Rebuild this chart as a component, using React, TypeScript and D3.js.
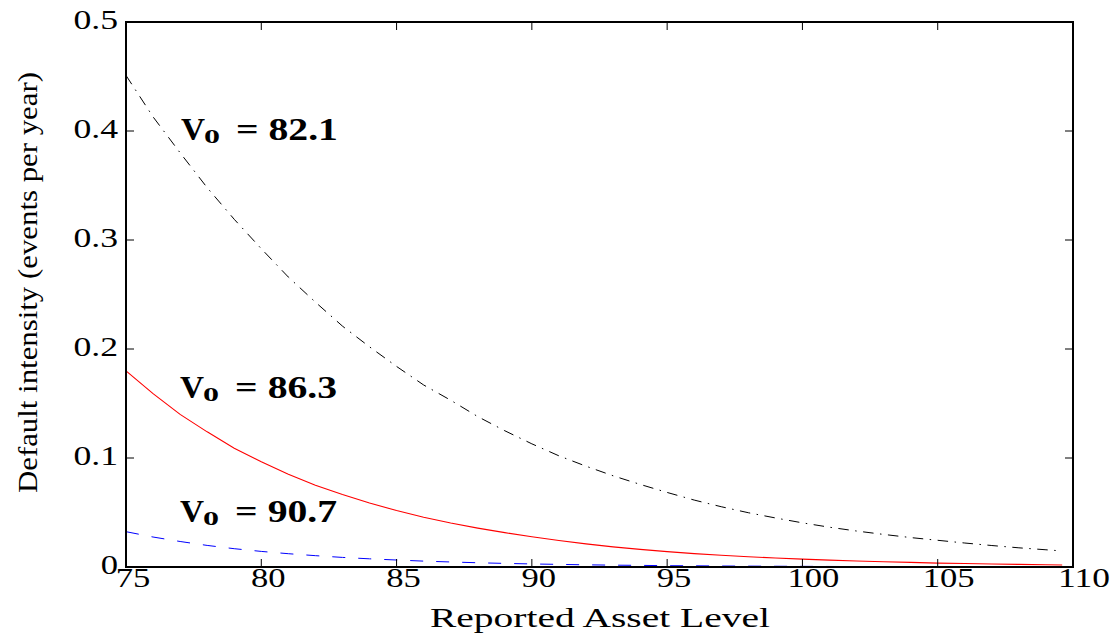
import React from "react";
import * as d3 from "d3";

// Reported asset level (x) samples
const assetLevels = [
  75, 76, 77, 78, 79, 80, 81, 82, 83, 84, 85, 86, 87, 88, 89, 90, 91, 92, 93, 94,
  95, 96, 97, 98, 99, 100, 101, 102, 103, 104, 105, 106, 107, 108, 109, 109.6,
];

// Default intensity for V0 = 82.1 (black, dash-dot)
const intensityV821 = [
  0.451, 0.413, 0.38, 0.348, 0.319, 0.292, 0.266, 0.243, 0.221, 0.202, 0.184,
  0.167, 0.153, 0.138, 0.125, 0.113, 0.102, 0.0925, 0.0837, 0.0758, 0.0684,
  0.0614, 0.0553, 0.0498, 0.045, 0.0405, 0.0365, 0.033, 0.0299, 0.027, 0.0245,
  0.022, 0.0197, 0.0176, 0.0158, 0.0147,
];

// Default intensity for V0 = 86.3 (red, solid)
const intensityV863 = [
  0.18, 0.159, 0.14, 0.124, 0.109, 0.0965, 0.085, 0.075, 0.0665, 0.0587, 0.0518,
  0.0457, 0.0404, 0.0357, 0.0315, 0.0278, 0.0243, 0.0212, 0.0185, 0.0162,
  0.0141, 0.0123, 0.0108, 0.0094, 0.0082, 0.0072, 0.0063, 0.0055, 0.0048,
  0.0042, 0.0036, 0.0032, 0.0028, 0.0024, 0.0021, 0.0019,
];

// Default intensity for V0 = 90.7 (blue, dashed)
const intensityV907 = [
  0.0324, 0.0275, 0.0234, 0.0198, 0.0168, 0.0143, 0.0122, 0.0104, 0.0088,
  0.0075, 0.0064, 0.0054, 0.0046, 0.0039, 0.0033, 0.0028, 0.0024, 0.002,
  0.0017, 0.0015, 0.0012, 0.0011, 0.0009, 0.0008, 0.0007, 0.0006, 0.0005,
  0.0004, 0.00035, 0.0003, 0.00025, 0.0002, 0.00018, 0.00015, 0.00013, 0.00012,
];

const xTicks = [75, 80, 85, 90, 95, 100, 105, 110];
const yTicks = [0, 0.1, 0.2, 0.3, 0.4, 0.5];
const yTickLabels = ["0", "0.1", "0.2", "0.3", "0.4", "0.5"];

const curveLabels = ["82.1", "86.3", "90.7"];
const curveLabelX = [77.03, 77.0, 77.0];
const curveLabelY = [0.392, 0.155, 0.041];

const W = 1118;
const H = 636;
const left = 126;
const right = 1073;
const top = 22;
const bottom = 567;

const FONT = "'Liberation Serif', 'DejaVu Serif', serif";

// wide text metrics used for the stretched serif labels
const labelWidth = (s: string) =>
  Array.from(s).reduce((w, c) => w + (c === "." ? 10 : 17.3), 0);

export default function App() {
  const x = d3.scaleLinear().domain([75, 110]).range([left, right]);
  const y = d3.scaleLinear().domain([0, 0.5]).range([bottom, top]);

  const line = d3
    .line<number>()
    .x((_, i) => x(assetLevels[i]))
    .y((d) => y(d));

  const series = [
    { values: intensityV821, color: "#000000", dash: "10.5 6.5 1.5 6.5", width: 1 },
    { values: intensityV863, color: "#ff0000", dash: "none", width: 1.1 },
    { values: intensityV907, color: "#0000ff", dash: "13 13", width: 1 },
  ];

  const tickLen = 8;

  return (
    <svg
      width={W}
      height={H}
      style={{ position: "absolute", left: 0, top: 0, background: "#fff" }}
    >
      <rect x={0} y={0} width={W} height={H} fill="#fff" />

      {series.map((s, i) => (
        <path
          key={i}
          d={line(s.values) || ""}
          fill="none"
          stroke={s.color}
          strokeWidth={s.width}
          strokeDasharray={s.dash}
        />
      ))}

      {/* tick marks on all four sides, pointing inward */}
      {xTicks.map((t) => (
        <g key={"xt" + t} stroke="#000" strokeWidth={1}>
          <line x1={x(t)} x2={x(t)} y1={bottom} y2={bottom - tickLen} />
          <line x1={x(t)} x2={x(t)} y1={top} y2={top + tickLen} />
        </g>
      ))}
      {yTicks.map((t) => (
        <g key={"yt" + t} stroke="#000" strokeWidth={1}>
          <line x1={left} x2={left + tickLen} y1={y(t)} y2={y(t)} />
          <line x1={right} x2={right - tickLen} y1={y(t)} y2={y(t)} />
        </g>
      ))}

      <rect
        x={left}
        y={top}
        width={right - left}
        height={bottom - top}
        fill="none"
        stroke="#000"
        strokeWidth={2}
      />

      {/* x tick labels */}
      {xTicks.map((t) => {
        const label = String(t);
        const w = labelWidth(label);
        const cx = x(t) + (label.length === 3 ? 11 : 7);
        return (
          <text
            key={"xl" + t}
            x={cx - w / 2}
            y={587}
            textLength={w}
            lengthAdjust="spacingAndGlyphs"
            fontFamily={FONT}
            fontSize={26.5}
            fill="#000"
          >
            {label}
          </text>
        );
      })}

      {/* y tick labels */}
      {yTicks.map((t, i) => {
        const w = labelWidth(yTickLabels[i]);
        return (
          <text
            key={"yl" + t}
            x={118 - w}
            y={y(t) + 6.5}
            textLength={w}
            lengthAdjust="spacingAndGlyphs"
            fontFamily={FONT}
            fontSize={26.5}
            fill="#000"
          >
            {yTickLabels[i]}
          </text>
        );
      })}

      {/* axis titles */}
      <text
        x={430}
        y={627}
        textLength={340}
        lengthAdjust="spacingAndGlyphs"
        fontFamily={FONT}
        fontSize={28}
        fill="#000"
      >
        Reported Asset Level
      </text>
      <text
        transform={`translate(${37},${493}) rotate(-90)`}
        x={0}
        y={0}
        textLength={421}
        lengthAdjust="spacingAndGlyphs"
        fontFamily={FONT}
        fontSize={28}
        fill="#000"
      >
        Default intensity (events per year)
      </text>

      {/* curve annotations */}
      {curveLabels.map((v, i) => {
        const bx = x(curveLabelX[i]);
        const by = y(curveLabelY[i]);
        return (
          <g key={"cl" + v} fontFamily={FONT} fontWeight="bold" fill="#000">
            <text x={bx} y={by} fontSize={31} textLength={24} lengthAdjust="spacingAndGlyphs">
              V
            </text>
            <text x={bx + 23} y={by + 3} fontSize={18} textLength={16} lengthAdjust="spacingAndGlyphs">
              0
            </text>
            <text
              x={bx + 55}
              y={by}
              fontSize={31}
              textLength={102}
              lengthAdjust="spacingAndGlyphs"
            >
              {"= " + v}
            </text>
          </g>
        );
      })}
    </svg>
  );
}
